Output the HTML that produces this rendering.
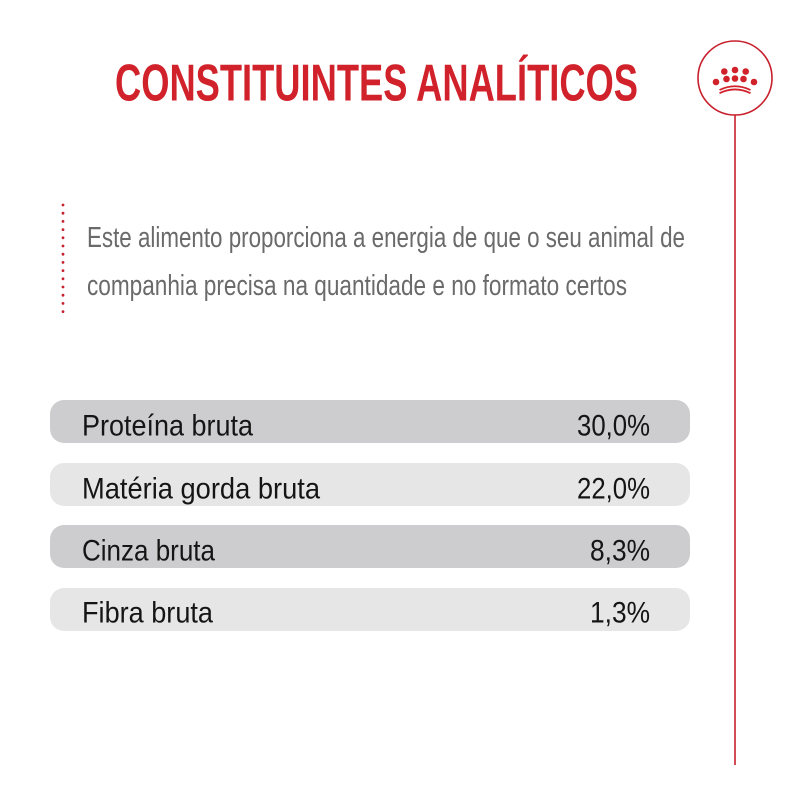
<!DOCTYPE html>
<html>
<head>
<meta charset="utf-8">
<style>
  html, body { margin: 0; padding: 0; background: #ffffff; }
  svg { display: block; }
  text { font-family: "Liberation Sans", "DejaVu Sans", sans-serif; }
</style>
</head>
<body>
<svg width="800" height="800" viewBox="0 0 800 800" xmlns="http://www.w3.org/2000/svg">
  <rect x="0" y="0" width="800" height="800" fill="#ffffff"/>

  <!-- Title -->
  <text x="115" y="100.5" font-size="52" font-weight="bold" fill="#d1222b" textLength="523" lengthAdjust="spacingAndGlyphs">CONSTITUINTES ANALÍTICOS</text>

  <!-- Right emblem + vertical line -->
  <circle cx="735" cy="78" r="37" fill="none" stroke="#c8202d" stroke-width="1.6"/>
  <line x1="735" y1="115" x2="735" y2="765" stroke="#c8202d" stroke-width="1.6"/>
  <g fill="#d1222b">
    <circle cx="724.3" cy="71.5" r="3.3"/>
    <circle cx="735" cy="70" r="3.3"/>
    <circle cx="745.7" cy="71.5" r="3.3"/>
    <circle cx="716" cy="82" r="3.3"/>
    <circle cx="726.5" cy="79" r="3.3"/>
    <circle cx="735" cy="78.5" r="3.3"/>
    <circle cx="743.5" cy="79" r="3.3"/>
    <circle cx="754" cy="82" r="3.3"/>
  </g>
  <g fill="none" stroke="#d1222b" stroke-width="1.8">
    <path d="M719.5 90 Q735 82.5 750.5 90"/>
    <path d="M719.5 93.2 Q735 85.7 750.5 93.2"/>
  </g>

  <!-- Dotted red line -->
  <g fill="#c8202d">
    <circle cx="63" cy="205" r="1.4"/>
    <circle cx="63" cy="213.2" r="1.4"/>
    <circle cx="63" cy="221.4" r="1.4"/>
    <circle cx="63" cy="229.6" r="1.4"/>
    <circle cx="63" cy="237.8" r="1.4"/>
    <circle cx="63" cy="246" r="1.4"/>
    <circle cx="63" cy="254.2" r="1.4"/>
    <circle cx="63" cy="262.4" r="1.4"/>
    <circle cx="63" cy="270.6" r="1.4"/>
    <circle cx="63" cy="278.8" r="1.4"/>
    <circle cx="63" cy="287" r="1.4"/>
    <circle cx="63" cy="295.2" r="1.4"/>
    <circle cx="63" cy="303.4" r="1.4"/>
    <circle cx="63" cy="311.6" r="1.4"/>
  </g>

  <!-- Paragraph -->
  <text x="87" y="247" font-size="28.5" fill="#6a6a6a" textLength="598" lengthAdjust="spacingAndGlyphs">Este alimento proporciona a energia de que o seu animal de</text>
  <text x="87" y="295" font-size="28.5" fill="#6a6a6a" textLength="540" lengthAdjust="spacingAndGlyphs">companhia precisa na quantidade e no formato certos</text>

  <!-- Bars -->
  <rect x="50" y="400" width="640" height="43" rx="14" ry="14" fill="#cdcdcf"/>
  <rect x="50" y="463" width="640" height="43" rx="14" ry="14" fill="#e6e6e6"/>
  <rect x="50" y="525" width="640" height="43" rx="14" ry="14" fill="#cdcdcf"/>
  <rect x="50" y="588" width="640" height="43" rx="14" ry="14" fill="#e6e6e6"/>

  <g font-size="30" fill="#151515">
    <text x="82" y="435.5" textLength="171" lengthAdjust="spacingAndGlyphs">Proteína bruta</text>
    <text x="82" y="498.5" textLength="238" lengthAdjust="spacingAndGlyphs">Matéria gorda bruta</text>
    <text x="82" y="560.5" textLength="133" lengthAdjust="spacingAndGlyphs">Cinza bruta</text>
    <text x="82" y="622.5" textLength="131" lengthAdjust="spacingAndGlyphs">Fibra bruta</text>

    <text x="577" y="435.5" textLength="73" lengthAdjust="spacingAndGlyphs">30,0%</text>
    <text x="577" y="498.5" textLength="73" lengthAdjust="spacingAndGlyphs">22,0%</text>
    <text x="590" y="560.5" textLength="60" lengthAdjust="spacingAndGlyphs">8,3%</text>
    <text x="590" y="622.5" textLength="60" lengthAdjust="spacingAndGlyphs">1,3%</text>
  </g>
</svg>
</body>
</html>
